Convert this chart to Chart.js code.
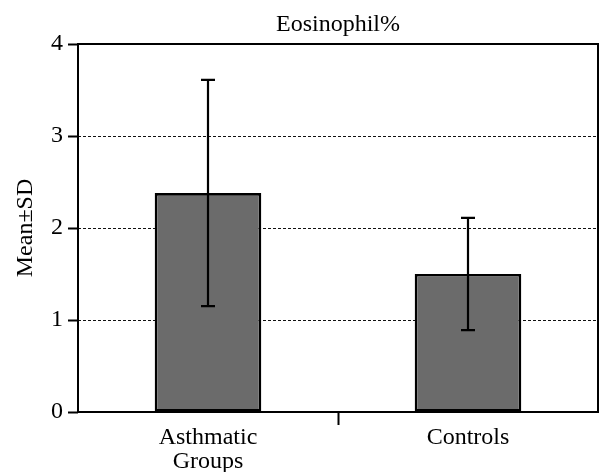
<!DOCTYPE html>
<html><head><meta charset="utf-8">
<style>html,body{margin:0;padding:0;background:#fff}#wrap{width:601px;height:472px}canvas{display:block}</style>
<script src="https://cdn.jsdelivr.net/npm/chart.js@4"></script>
</head><body><div id="wrap"><canvas id="c" width="601" height="472"></canvas></div>
<script>
const categories = [['Asthmatic', 'Groups'], 'Controls'];
const means = [2.38, 1.50];
const sds = [1.23, 0.61];
const yTickValues = [0, 1, 2, 3, 4];
const chartTitle = 'Eosinophil%';
const yTitle = 'Mean±SD';

const FONT = "'Liberation Serif', 'Times New Roman', serif";

const frame = {
  id: 'frame',
  afterDatasetsDraw(chart) {
    const {ctx, chartArea: a} = chart;
    ctx.save();
    ctx.strokeStyle = '#000';
    ctx.lineWidth = 2;
    ctx.strokeRect(a.left, a.top, a.right - a.left, a.bottom - a.top);
    const meta = chart.getDatasetMeta(0);
    const y = chart.scales.y;
    ctx.lineWidth = 2.2;
    meta.data.forEach((bar, i) => {
      const x = bar.x;
      const yt = y.getPixelForValue(means[i] + sds[i]);
      const yb = y.getPixelForValue(means[i] - sds[i]);
      ctx.beginPath();
      ctx.moveTo(x, yt); ctx.lineTo(x, yb);
      ctx.moveTo(x - 7, yt); ctx.lineTo(x + 7, yt);
      ctx.moveTo(x - 7, yb); ctx.lineTo(x + 7, yb);
      ctx.stroke();
    });
    ctx.restore();
  }
};

new Chart(document.getElementById('c'), {
  type: 'bar',
  data: {
    labels: categories,
    datasets: [{
      data: means,
      backgroundColor: '#6b6b6b',
      borderColor: '#000',
      borderWidth: 2.6,
      borderSkipped: false,
      barPercentage: 0.41,
      categoryPercentage: 1
    }]
  },
  options: {
    responsive: false,
    animation: false,
    devicePixelRatio: 1,
    layout: {padding: {left: 0, right: 3, top: 0, bottom: 0}},
    plugins: {
      legend: {display: false},
      tooltip: {enabled: false},
      title: {
        display: true,
        text: chartTitle,
        fullSize: false,
        color: '#000',
        font: {family: FONT, size: 24, weight: 'normal', lineHeight: 1.2},
        padding: {top: 10.6, bottom: 4.6}
      }
    },
    scales: {
      x: {
        type: 'category',
        offset: true,
        afterFit(s) { s.height = 60; },
        border: {display: false},
        grid: {
          offset: true,
          display: true,
          drawOnChartArea: false,
          drawTicks: true,
          tickLength: 13,
          tickWidth: 2,
          color: 'rgba(0,0,0,0)',
          tickColor: ctx => ctx.index === 1 ? '#000' : 'rgba(0,0,0,0)'
        },
        ticks: {
          color: '#000',
          padding: 1,
          font: {family: FONT, size: 24, lineHeight: 1.0}
        }
      },
      y: {
        min: 0,
        max: 4,
        afterFit(s) { s.width = 78; },
        afterBuildTicks(s) { s.ticks = yTickValues.map(v => ({value: v})); },
        border: {display: false, dash: [3, 2]},
        grid: {
          color: ctx => (ctx.tick && ctx.tick.value > 0 && ctx.tick.value < 4) ? '#111' : 'rgba(0,0,0,0)',
          lineWidth: 1,
          borderDash: [3, 2],
          tickColor: '#000',
          tickWidth: 2,
          tickLength: 10,
          tickBorderDash: []
        },
        ticks: {
          color: '#000',
          padding: 5,
          font: {family: FONT, size: 24}
        },
        title: {
          display: true,
          text: yTitle,
          color: '#000',
          font: {family: FONT, size: 24, lineHeight: 1.2},
          padding: {top: 11.5, bottom: 0}
        }
      }
    }
  },
  plugins: [frame]
});
</script>
</body></html>
